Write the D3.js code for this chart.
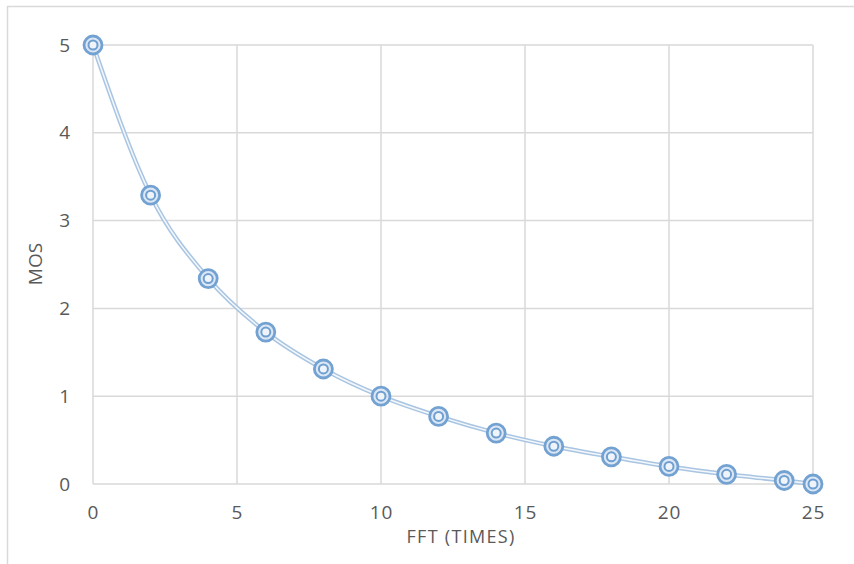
<!DOCTYPE html>
<html><head><meta charset="utf-8">
<script src="https://cdn.jsdelivr.net/npm/d3@7/dist/d3.min.js"></script>
<style>body{margin:0;background:#fff}svg{display:block}text{font-family:"Open Sans",sans-serif;fill:#595959}</style>
</head><body><svg id="c" width="854" height="564"></svg>
<script>
const xValues = [0, 2, 4, 6, 8, 10, 12, 14, 16, 18, 20, 22, 24, 25];
const mosValues = [5, 3.29, 2.34, 1.73, 1.31, 1.0, 0.77, 0.58, 0.43, 0.31, 0.2, 0.11, 0.04, 0.0];
const xTicks = [0, 5, 10, 15, 20, 25];
const yTicks = [0, 1, 2, 3, 4, 5];
const xTitle = "FFT (TIMES)";
const yTitle = "MOS";

const svg = d3.select("#c");
const x = d3.scaleLinear().domain([0, 25]).range([93, 813]);
const y = d3.scaleLinear().domain([0, 5]).range([484, 45]);

// outer frame
svg.append("path").attr("d", "M7.5,564 V6.5 H854").attr("fill", "none").attr("stroke", "#d9d9d9").attr("stroke-width", 1.5);

// gridlines
const g = svg.append("g");
g.selectAll(".vx").data(xTicks).join("line")
  .attr("x1", d => x(d)).attr("x2", d => x(d)).attr("y1", y(5)).attr("y2", y(0))
  .attr("stroke", "#d9d9d9").attr("stroke-width", 1.5);
g.selectAll(".hy").data(yTicks).join("line")
  .attr("x1", x(0)).attr("x2", x(25)).attr("y1", d => y(d)).attr("y2", d => y(d))
  .attr("stroke", "#d9d9d9").attr("stroke-width", 1.5);

// axes tick labels
const xAxis = d3.axisBottom(x).tickValues(xTicks).tickFormat(d3.format("d")).tickSize(0).tickPadding(22);
const ax = svg.append("g").attr("transform", `translate(0,${y(0)})`).call(xAxis);
ax.select(".domain").remove();
ax.attr("font-family", null).attr("font-size", 19);
ax.selectAll("text").style("fill", "#595959").attr("letter-spacing", 1);

const yAxis = d3.axisLeft(y).tickValues(yTicks).tickFormat(d3.format("d")).tickSize(0).tickPadding(23);
const ay = svg.append("g").attr("transform", `translate(${x(0)},0)`).call(yAxis);
ay.select(".domain").remove();
ay.attr("font-family", null).attr("font-size", 19);
ay.selectAll("text").style("fill", "#595959");

// titles
svg.append("text").attr("x", 461).attr("y", 543).attr("text-anchor", "middle").attr("font-size", 18).attr("letter-spacing", 1.3).text(xTitle);
svg.append("text").attr("transform", "translate(42,264) rotate(-90)").attr("text-anchor", "middle").attr("font-size", 19).text(yTitle);

// line
const data = xValues.map((v, i) => ({x: v, y: mosValues[i]}));
const line = d3.line().x(d => x(d.x)).y(d => y(d.y)).curve(d3.curveMonotoneX);
svg.append("path").datum(data).attr("d", line).attr("fill", "none").attr("stroke", "#a9c5e2").attr("stroke-width", 4.5);
svg.append("path").datum(data).attr("d", line).attr("fill", "none").attr("stroke", "#f4f8fc").attr("stroke-width", 1.5);

// markers
const m = svg.append("g").selectAll("g").data(data).join("g").attr("transform", d => `translate(${x(d.x)},${y(d.y)})`);
m.append("circle").attr("r", 9).attr("fill", "#dbe7f4").attr("stroke", "#73a2d2").attr("stroke-width", 2.8);
m.append("circle").attr("r", 4.5).attr("fill", "#eef4fa").attr("stroke", "#6f9fd0").attr("stroke-width", 2);
</script></body></html>
